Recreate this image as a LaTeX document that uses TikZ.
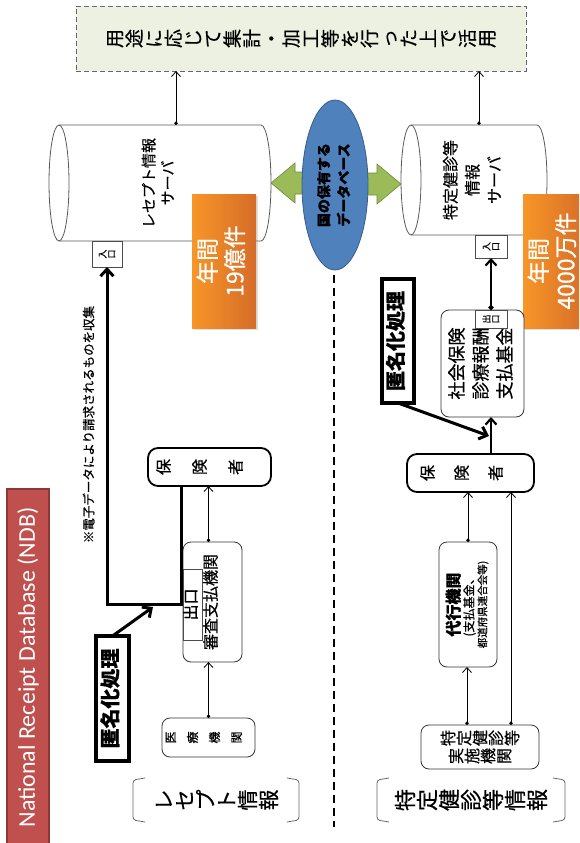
\documentclass[tikz,border=0pt]{standalone}
\usepackage{graphicx}
\usepackage{fontspec}
\setmainfont{Noto Sans CJK JP}[FakeBold=0.5]
\newfontfamily\ndbfont{Carlito}
\usetikzlibrary{arrows.meta,shapes.geometric,shadows}

\definecolor{usegreen}{RGB}{236,241,226}
\definecolor{arrowgreen}{RGB}{155,187,89}
\definecolor{arrowgreenline}{RGB}{113,137,63}
\definecolor{dbblue}{RGB}{79,129,189}
\definecolor{dbblueline}{RGB}{56,93,138}
\definecolor{ndbred}{RGB}{192,80,77}
\definecolor{ndbredline}{RGB}{140,56,54}
\definecolor{orangelight}{RGB}{247,150,40}
\definecolor{orangedark}{RGB}{214,108,40}

% one character turned a quarter to the left
\newcommand\tc[1]{\rotatebox{90}{\makebox[1em]{\rule[-0.12em]{0pt}{1em}#1}}}
\makeatletter
\newcommand\tate[2][0pt]{\@tfor\tch:=#2\do{\tc{\tch}\hspace{#1}}\hspace{-#1}}
\makeatother
\newcommand\yoko[1]{\rotatebox{90}{\begin{tabular}{@{}c@{}}#1\end{tabular}}}

\begin{document}
\begin{tikzpicture}[
    x=1pt, y=-1pt,
    every node/.style={inner sep=0pt, outer sep=0pt},
    usage/.style={rectangle, draw=black!60, dash pattern=on 5pt off 3pt, line width=0.8pt, fill=usegreen, font=\fontsize{19}{23}\selectfont},
    srv/.style={rectangle, inner sep=0pt},
    cyl/.style={draw=black!65, line width=0.8pt},
    garrow/.style={fill=arrowgreen, draw=arrowgreenline, line width=0.6pt},
    dbell/.style={ellipse, draw=dbblueline, line width=0.8pt, fill=dbblue, font=\fontsize{14}{20}\selectfont\bfseries},
    tally/.style={rectangle, left color=orangelight, right color=orangedark, drop shadow={opacity=0.25, shadow xshift=2pt, shadow yshift=-2pt}, text=white, font=\fontsize{23}{27}\selectfont},
    box/.style={rectangle, draw=black!80, line width=0.8pt, rounded corners=8pt, fill=white},
    hbox/.style={rectangle, draw=black, line width=1.8pt, rounded corners=10pt, fill=white, font=\fontsize{16}{16}\selectfont},
    gate/.style={rectangle, draw=black!70, line width=0.7pt, fill=white},
    anon/.style={rectangle, draw=black, line width=4pt, fill=white, font=\fontsize{20}{24}\selectfont\bfseries},
    ndb/.style={rectangle, draw=ndbredline, line width=1.2pt, fill=ndbred, text=white, font=\ndbfont\fontsize{24}{28}\selectfont},
    brk/.style={draw=black!60, line width=0.8pt, rounded corners=3pt},
    divider/.style={draw=black, line width=1.6pt, dash pattern=on 8pt off 5pt},
    flowdot/.style={{Circle[length=3.5pt]}-{Straight Barb[length=5pt,width=9pt]}, line width=0.8pt},
    heavy/.style={-{Straight Barb[length=7pt,width=13pt]}, line width=3pt},
    mid/.style={-{Straight Barb[length=6pt,width=11pt]}, line width=2.2pt},
    middot/.style={{Circle[length=5pt]}-{Straight Barb[length=6pt,width=11pt]}, line width=2.2pt}
]
    \clip (0,0) rectangle (579,843);

% -------------------------
% Use box & servers
% -------------------------
    \node[usage, minimum width=450pt, minimum height=65pt] (use) at (301,38.5) {\tate[0.6pt]{用途に応じて集計・加工等を行った上で活用}};

    \node[srv, minimum width=202pt, minimum height=116pt, font=\fontsize{15}{19}\selectfont] (rsrv) at (160,183) {\yoko{レセプト情報\\サーバ}};
    \node[srv, minimum width=126pt, minimum height=110pt, font=\fontsize{16}{22}\selectfont] (ksrv) at (474,180) {\yoko{特定健診等\\情報\\サーバ}};

    \draw[cyl] (rsrv.north west) -- (rsrv.north east) arc[start angle=90, end angle=-90, x radius=10pt, y radius=58pt] -- (rsrv.south west);
    \draw[cyl] (rsrv.west) ellipse[x radius=10pt, y radius=58pt];
    \draw[cyl] (ksrv.north west) -- (ksrv.north east) arc[start angle=90, end angle=-90, x radius=10pt, y radius=55pt] -- (ksrv.south west);
    \draw[cyl] (ksrv.west) ellipse[x radius=10pt, y radius=55pt];

% -------------------------
% National database
% -------------------------
    \filldraw[garrow] ([xshift=10pt]rsrv.east) -- ++(24,-20) -- ++(0,9) -- ++(17,0) -- ++(0,22) -- ++(-17,0) -- ++(0,9) -- cycle;
    \filldraw[garrow] ([xshift=-10pt,yshift=-4pt]ksrv.west) -- ++(-24,-20) -- ++(0,9) -- ++(-23,0) -- ++(0,22) -- ++(23,0) -- ++(0,9) -- cycle;
    \node[dbell, minimum width=66pt, minimum height=170pt] (db) at (335,185) {\yoko{国の保有する\\データベース}};

    \node[tally, minimum width=64pt, minimum height=134pt] (cntR) at (224,261) {\yoko{年間\\19億件}};
    \node[tally, minimum width=64pt, minimum height=134pt] (cntK) at (555,261) {\yoko{年間\\4000万件}};

    \node[gate, minimum width=30pt, minimum height=26pt, font=\fontsize{9}{9}\selectfont] (inR) at (107,254) {\tate{入口}};
    \node[gate, minimum width=32pt, minimum height=23pt, font=\fontsize{9}{9}\selectfont] (inK) at (491,246.5) {\tate{入口}};

    \draw[divider] (334,275) -- (334,827);

% -------------------------
% Receipt side (left)
% -------------------------
    \node[ndb, minimum width=42pt, minimum height=357pt] (ndb) at (28,667.5) {\rotatebox{90}{National Receipt Database (NDB)}};
    \node[font=\fontsize{12.5}{13}\selectfont] (note) at (90,424.5) {\yoko{※電子データにより請求されるものを収集}};

    \node[hbox, minimum width=123pt, minimum height=38pt] (hokR) at (209.5,467) {\tate[20pt]{保険者}};
    \node[box, minimum width=59pt, minimum height=120pt, font=\fontsize{16}{18}\selectfont] (shinsa) at (212.5,602) {\yoko{審査支払機関}};
    \node[gate, minimum width=19pt, minimum height=71pt, font=\fontsize{16}{17}\selectfont] (outR) at (192.5,604.5) {\yoko{出口}};
    \node[box, minimum width=93pt, minimum height=39pt, font=\fontsize{12}{12}\selectfont] (iryo) at (208.5,737.5) {\tate[10pt]{医療機関}};
    \node[anon, minimum width=33pt, minimum height=125pt] (anonR) at (112.5,698.5) {\yoko{匿名化処理}};
    \node[minimum width=170pt, minimum height=44pt, font=\fontsize{21}{21}\selectfont] (labR) at (216,800) {\tate{レセプト情報}};

% -------------------------
% Health check side (right)
% -------------------------
    \node[anon, minimum width=32pt, minimum height=124pt] (anonK) at (398,341) {\yoko{匿名化処理}};
    \node[box, minimum width=83pt, minimum height=107pt, font=\fontsize{18}{24}\selectfont] (shaho) at (482.5,363.5) {\yoko{社会保険\\診療報酬\\支払基金}};
    \node[gate, minimum width=32pt, minimum height=18pt, font=\fontsize{9}{9}\selectfont] (outK) at (491,319) {\tate{出口}};
    \node[hbox, minimum width=127pt, minimum height=38pt] (hokK) at (470.5,473) {\tate[18pt]{保険者}};
    \node[box, minimum width=58pt, minimum height=125pt, font=\fontsize{10.5}{13}\selectfont] (daiko) at (468,604.5)
        {\yoko{{\fontsize{16}{20}\selectfont\bfseries 代行機関}\\{\fontsize{12}{14}\selectfont (支払基金、}\\都道府県連合会等)}};
    \node[box, minimum width=118pt, minimum height=44pt, align=center, font=\fontsize{16}{18}\selectfont] (tokutei) at (480,747) {\tate{特定健診等}\\\tate{実施機関}};
    \node[minimum width=192pt, minimum height=44pt, font=\fontsize{22}{22}\selectfont] (labK) at (471,800) {\tate{特定健診等情報}};

    \foreach \lab in {labR,labK}{
        \draw[brk] ([xshift=14pt]\lab.north west) -- ([xshift=2pt,yshift=-2pt]\lab.north west) -- ([xshift=2pt,yshift=2pt]\lab.south west) -- ([xshift=14pt]\lab.south west);
        \draw[brk] ([xshift=-14pt]\lab.north east) -- ([xshift=-2pt,yshift=-2pt]\lab.north east) -- ([xshift=-2pt,yshift=2pt]\lab.south east) -- ([xshift=-14pt]\lab.south east);
    }

% -------------------------
% Arrows
% -------------------------
    % servers up to the use box
    \draw[flowdot] ([xshift=16pt]rsrv.north) -- ([xshift=16pt]rsrv.north |- use.south);
    \draw[flowdot] ([xshift=5pt]ksrv.north) -- ([xshift=5pt]ksrv.north |- use.south);

    % receipts
    \draw[flowdot] (iryo.north) -- (iryo.north |- shinsa.south);
    \draw[flowdot] (iryo.north |- shinsa.north) -- (iryo.north |- hokR.south);
    \coordinate (bendR) at (inR.south |- outR.west);
    \draw[heavy] ([xshift=-28.5pt]hokR.south) |- (bendR) -- (inR.south);
    \coordinate (tipR) at (153,607);
    \draw[heavy] (anonR.north) -- (tipR);

    % health checks
    \draw[flowdot] ([xshift=-13pt]tokutei.north) -- ([xshift=-13pt]tokutei.north |- daiko.south);
    \draw[flowdot] ([xshift=31pt]tokutei.north) -- ([xshift=31pt]tokutei.north |- hokK.south);
    \draw[flowdot] (daiko.north) -- (daiko.north |- hokK.south);
    \draw[mid] (hokK.north -| outK) -- (shaho.south -| outK);
    \draw[middot] (outK.north) -- (inK.south);
    \coordinate (tipK) at (489,436);
    \draw[heavy] (anonK.south) -- (tipK);
\end{tikzpicture}
\end{document}
